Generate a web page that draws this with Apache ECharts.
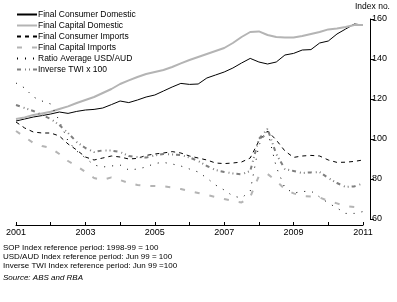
<!DOCTYPE html>
<html lang="en">
<head>
    <meta charset="UTF-8">
    <title>Price indexes</title>
    <style>
        body{ margin:0; background:#fff; }
        #chart{ width:397px; height:302px; }
    </style>
    <script src="https://cdn.jsdelivr.net/npm/echarts@6/dist/echarts.min.js"></script>
</head>
<body>
    <div id="chart"></div>
</body>
<script>
    // quarterly points, Mar 2001 .. Mar 2011
    var startYear = 2001;
    var consumerDomestic = [109,110,111,111.7,112.5,113.5,112.8,113.8,114.5,114.8,115.5,117.2,119,118.2,119.5,121,122,124,126,127.8,127.3,127.5,130.5,132,133.5,135.5,138,140.3,138.5,137.5,138.5,142,142.8,144.5,144.7,148,149,152.5,155,157.5,157];
    var capitalDomestic = [110,110.8,112,112.8,113.6,115,116.3,118,119.5,121,123,125,127.5,129.3,131,132.5,133.5,134.5,136,137.8,139.5,141,142.5,144,145.5,148,151,153.5,153.8,152,151,150.7,150.8,151.5,152.5,153.5,154.8,155.2,156,157,157];
    var consumerImports = [108.5,105.5,103.5,103,103,101.5,97.5,94.5,91,89.5,90.5,91.5,91,90,90.3,91.8,92.5,93,93.7,93,91.5,90.5,89.5,88,87.7,88,88.5,90.5,99,104,99.5,94,90.8,91.5,91.8,91.5,89.5,88.3,88.4,88.8,89.5];
    var capitalImports = [104,101,98,96.5,95.5,92.5,89,86.5,83.5,80.5,79.5,80.8,79.5,78,77,76.5,76.5,76.3,75.8,75,74,73,72,71,70,69,68.3,71,81.5,82.5,79,75,72.8,71.5,71.2,70.8,69,67.8,66.5,66,67];
    var usdAud = [128,125.5,121,119,117.5,109,99,94,90.5,87,86,86.5,87,84.5,85,86,87.8,88.3,87.5,86.5,85,83.5,80.5,77,74.5,71.5,70.5,74,97,104,86,75.5,73,73.7,74,71,68,65.5,62.8,62.8,63.7];
    var inverseTwi = [117,115.5,114,112,110,107,103,98.5,95.5,93.5,94.3,94.2,93.5,91.5,91,90.7,91.8,92.5,92.3,92,90.8,89,86.5,84.5,83.5,82.8,82.3,84,100,105,92.5,85,84,83,83.3,83.5,80.5,78,76,76.3,77.8];

    var seriesNames = ['Final Consumer Domestic','Final Capital Domestic','Final Consumer Imports','Final Capital Imports','Ratio Average USD/AUD','Inverse TWI x 100'];
    var notes = ['SOP Index reference period: 1998-99 = 100','USD/AUD Index reference period: Jun 99 = 100','Inverse TWI Index reference period: Jun 99 =100'];
    var source = 'Source: ABS and RBA';

    // pair each value with its quarter
    function toPairs(arr){
        return arr.map(function(v, i){ return [startYear + i / 4, v]; });
    }

    var font = 'Liberation Sans, Arial, sans-serif';
    var myChart = echarts.init(document.getElementById('chart'));

    function line(name, data, color, width, type){
        return {
            name: name,
            type: 'line',
            data: toPairs(data),
            symbol: 'none',
            animation: false,
            lineStyle: { color: color, width: width, type: type },
            itemStyle: { color: color }
        };
    }

    var option = {
        textStyle: { fontFamily: font },
        grid: { left: 16, right: 34, top: 19, bottom: 83 },
        legend: {
            orient: 'vertical',
            left: 11,
            top: 5,
            itemWidth: 20,
            itemHeight: 8,
            itemGap: 2,
            data: seriesNames,
            // hide the round marker, keep only the line sample
            itemStyle: { opacity: 0 },
            textStyle: { fontSize: 8.5, color: '#000', fontFamily: font, padding: [0, 0, 0, -4] }
        },
        xAxis: {
            type: 'value',
            min: 2001,
            max: 2011,
            interval: 1,
            offset: 6,
            splitLine: { show: false },
            axisLine: { onZero: false, lineStyle: { color: '#000', width: 1 } },
            axisTick: { inside: true, length: 3, lineStyle: { color: '#000' } },
            axisLabel: {
                margin: 3,
                fontSize: 9,
                color: '#000',
                formatter: function(v){ return (v - 2001) % 2 === 0 ? String(v) : ''; }
            }
        },
        yAxis: {
            type: 'value',
            position: 'right',
            offset: 7,
            min: 60,
            max: 160,
            interval: 20,
            splitLine: { show: false },
            axisLine: { show: true, onZero: false, lineStyle: { color: '#000', width: 1 } },
            axisTick: { show: true, length: 4, lineStyle: { color: '#000' } },
            axisLabel: { margin: 2, fontSize: 9, color: '#000' }
        },
        graphic: [
            { type: 'text', left: 355, top: 2, style: { text: 'Index no.', font: '8.5px ' + font, fill: '#000' } },
            { type: 'text', left: 3, top: 244, style: { text: notes[0], font: '8px ' + font, fill: '#000' } },
            { type: 'text', left: 3, top: 253, style: { text: notes[1], font: '8px ' + font, fill: '#000' } },
            { type: 'text', left: 3, top: 261.5, style: { text: notes[2], font: '8px ' + font, fill: '#000' } },
            { type: 'text', left: 3, top: 273.5, style: { text: source, font: 'italic 8px ' + font, fill: '#000' } }
        ],
        series: [
            line(seriesNames[0], consumerDomestic, '#000000', 1, 'solid'),
            line(seriesNames[1], capitalDomestic, '#b4b4b4', 2, 'solid'),
            line(seriesNames[2], consumerImports, '#000000', 1, [4, 4]),
            line(seriesNames[3], capitalImports, '#b4b4b4', 2, [5, 10]),
            line(seriesNames[4], usdAud, '#000000', 1, [1, 7]),
            line(seriesNames[5], inverseTwi, '#7f7f7f', 2, [4, 4, 1, 3, 1, 3])
        ]
    };
    myChart.setOption(option);
</script>
</html>
